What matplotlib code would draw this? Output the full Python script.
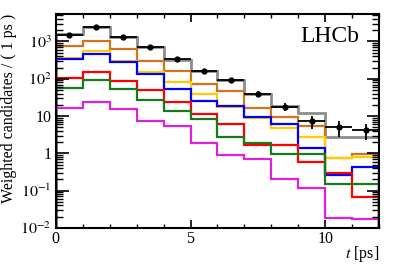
import numpy as np
import matplotlib
matplotlib.use('Agg')
import matplotlib.pyplot as plt
from matplotlib.ticker import FixedLocator, FixedFormatter, MultipleLocator

plt.rcParams['font.family'] = ['Liberation Serif', 'DejaVu Serif']
plt.rcParams['mathtext.fontset'] = 'stix'

# bins in decay time t [ps]
edges = np.arange(0, 13, 1)
centres = edges[:-1] + 0.5

# data points (weighted candidates per 1 ps) and their errors
data_y = [1510, 2500, 1360, 690, 330, 159, 90, 40, 18, 7.4, 5.0, 4.3]
data_err = [60, 80, 60, 40, 25, 17, 12, 7, 4, 2.8, 2.3, 2.0]

# fit components
total = [1570, 2500, 1360, 690, 326, 159, 90, 40, 18.5, 12, 2.75, 2.75]
comp_orange = [736, 1060, 630, 295, 159, 74, 47, 16, 9.3, 5.5, 0.75, 0.98]
comp_yellow = [362, 540, 306, 154, 83, 40, 17, 9.1, 4.9, 2.7, 0.74, 0.79]
comp_blue = [335, 470, 290, 134, 54, 26, 18.7, 9.5, 6.2, 1.42, 0.26, 0.43]
comp_red = [102, 154, 86, 50, 24, 11.7, 6.2, 1.7, 1.7, 0.57, 0.30, 0.069]
comp_green = [56, 93, 52, 27, 13.5, 8.5, 2.7, 1.85, 0.97, 0.97, 0.148, 0.148]
comp_magenta = [16.4, 23.5, 15, 7.3, 5.3, 1.87, 0.89, 0.72, 0.20, 0.115, 0.018, 0.0173]

components = [
    (comp_orange, '#D2731E'),
    (comp_yellow, '#FFCC00'),
    (comp_blue, '#0000FF'),
    (comp_red, '#FF0000'),
    (comp_green, '#1A7A1A'),
    (comp_magenta, '#DD22DD'),
]

fig = plt.figure(figsize=(3.99, 2.72), dpi=100)
ax = fig.add_axes([0.140, 0.162, 0.810, 0.787])

ax.stairs(total, edges, baseline=1e-5, color='#8c8c8c', lw=2.0)
for vals, col in components:
    ax.stairs(vals, edges, baseline=1e-5, color=col, lw=1.6)

ax.errorbar(centres, data_y, yerr=data_err, xerr=0.5, fmt='o', color='black',
            ms=3.5, lw=1.3, capsize=0, zorder=5)

ax.set_yscale('log')
ax.set_xlim(0, 12)
ax.set_ylim(1e-2, 5.5e3)

ax.yaxis.set_major_locator(FixedLocator([1e-2, 1e-1, 1, 10, 1e2, 1e3]))
ax.yaxis.set_major_formatter(FixedFormatter(['$10^{-2}$', '$10^{-1}$', '1', '10',
                                             '$10^{2}$', '$10^{3}$']))
ax.xaxis.set_major_locator(FixedLocator([0, 5, 10]))
ax.xaxis.set_minor_locator(MultipleLocator(1))

ax.tick_params(which='both', direction='in', top=True, right=True, labelsize=11.5)
ax.tick_params(axis='y', which='major', length=9, width=1.2, pad=3)
ax.tick_params(axis='y', which='minor', length=5, width=1.0)
ax.tick_params(axis='x', which='major', length=6, width=1.2, pad=2)
ax.tick_params(axis='x', which='minor', length=3, width=1.0)
for s in ax.spines.values():
    s.set_linewidth(1.5)

ax.set_xlabel('$t$ [ps]', fontsize=11.5, loc='right')
ax.xaxis.set_label_coords(1.0, -0.075)
ax.set_ylabel('Weighted candidates / ( 1 ps )', fontsize=11.5, loc='top')
ax.yaxis.set_label_coords(-0.12, 1.0)
ax.text(0.94, 0.945, 'LHCb', transform=ax.transAxes, fontsize=17,
        ha='right', va='top')

fig.savefig('out.png', dpi=100)
